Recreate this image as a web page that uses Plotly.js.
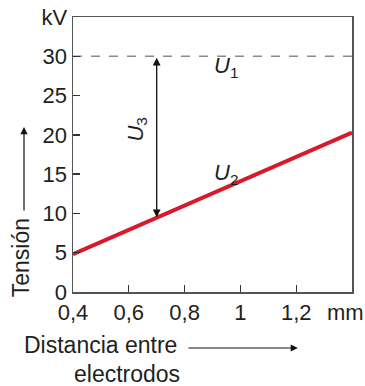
<!DOCTYPE html>
<html><head><meta charset="utf-8">
<script src="https://cdn.plot.ly/plotly-3.0.1.min.js"></script>
<style>body{margin:0;background:#fff}#c{width:365px;height:386px}</style>
</head><body><div id="c"></div>
<script>
var distance = [0.4, 1.4];
var u2Values = [4.8, 20.3];
var u1Values = [30, 30];
var xTickVals = [0.4, 0.6, 0.8, 1.0, 1.2, 1.4];
var xTickText = ["0,4", "0,6", "0,8", "1", "1,2", ""];
var xUnit = "mm";
var yTickVals = [0, 5, 10, 15, 20, 25, 30, 35];
var yTickText = ["0", "5", "10", "15", "20", "25", "30", "kV"];
var u3X = 0.7;
var u3Top = 30;
var u3Bottom = 9.5;

var F = "Liberation Sans, Arial, Helvetica, sans-serif";
var TXT = "#231f20";
var AX = "#555555";
var FS = 22;
var FT = 23;

var traces = [
  {x: distance, y: u1Values, mode: "lines", line: {color: "#8a8a8a", width: 1.5, dash: "dash"}, hoverinfo: "skip"},
  {x: distance, y: u2Values, mode: "lines", line: {color: "#d7192a", width: 4}, hoverinfo: "skip", cliponaxis: false}
];

var layout = {
  width: 365, height: 386,
  margin: {l: 73, r: 13, t: 17, b: 94},
  showlegend: false,
  paper_bgcolor: "#fff", plot_bgcolor: "#fff",
  font: {family: F, size: FS, color: TXT},
  xaxis: {range: [0.39999, 1.40001], tickmode: "array", tickvals: xTickVals, ticktext: xTickText,
    ticks: "inside", ticklen: 7, tickwidth: 1.3, tickcolor: "#333",
    showline: true, linecolor: AX, linewidth: 1.5, mirror: true, showgrid: false, zeroline: false,
    tickfont: {family: F, size: FS, color: TXT}},
  yaxis: {range: [0, 35.0001], tickmode: "array", tickvals: yTickVals, ticktext: yTickText,
    ticks: "inside", ticklen: 7, tickwidth: 1.3, tickcolor: "#333",
    showline: true, linecolor: AX, linewidth: 1.5, mirror: true, showgrid: false, zeroline: false,
    tickfont: {family: F, size: FS, color: TXT}},
  annotations: [
    {x: u3X, y: u3Bottom, ax: u3X, ay: u3Top, xref: "x", yref: "y", axref: "x", ayref: "y",
     showarrow: true, arrowside: "end+start", arrowhead: 2, arrowsize: 1.2, arrowwidth: 1.3, arrowcolor: "#111", text: ""},
    {x: 0.95, y: 28.6, xref: "x", yref: "y", xanchor: "center", yanchor: "middle", text: "<i>U</i><sub>1</sub>", showarrow: false, font: {family: F, size: FS, color: TXT}},
    {x: 0.95, y: 15.0, xref: "x", yref: "y", xanchor: "center", yanchor: "middle", text: "<i>U</i><sub>2</sub>", showarrow: false, font: {family: F, size: FS, color: TXT}},
    {x: 0.63, y: 20.7, xref: "x", yref: "y", xanchor: "center", yanchor: "middle", text: "<i>U</i><sub>3</sub>", textangle: -90, showarrow: false, font: {family: F, size: FS, color: TXT}},
    {x: 0.975, y: -0.074, xref: "paper", yref: "paper", xanchor: "center", yanchor: "middle", text: xUnit, showarrow: false, font: {family: F, size: FS, color: TXT}},
    {x: -0.185, y: 0.124, xref: "paper", yref: "paper", xanchor: "center", yanchor: "middle", text: "Tensión", textangle: -90, showarrow: false, font: {family: F, size: FT, color: TXT}},
    {x: -0.1756, y: 0.6, xref: "paper", yref: "paper", ax: 0, ay: 85, text: "", showarrow: true, arrowhead: 2, arrowsize: 1.2, arrowwidth: 1.2, arrowcolor: "#111"},
    {x: 0.097, y: -0.1927, xref: "paper", yref: "paper", xanchor: "center", yanchor: "middle", text: "Distancia entre", showarrow: false, font: {family: F, size: FT, color: TXT}},
    {x: 0.806, y: -0.2036, xref: "paper", yref: "paper", ax: -111, ay: 0, text: "", showarrow: true, arrowhead: 2, arrowsize: 1.2, arrowwidth: 1.2, arrowcolor: "#111"},
    {x: 0.193, y: -0.298, xref: "paper", yref: "paper", xanchor: "center", yanchor: "middle", text: "electrodos", showarrow: false, font: {family: F, size: FT, color: TXT}}
  ]
};
Plotly.newPlot("c", traces, layout, {displayModeBar: false, staticPlot: true});
</script></body></html>
